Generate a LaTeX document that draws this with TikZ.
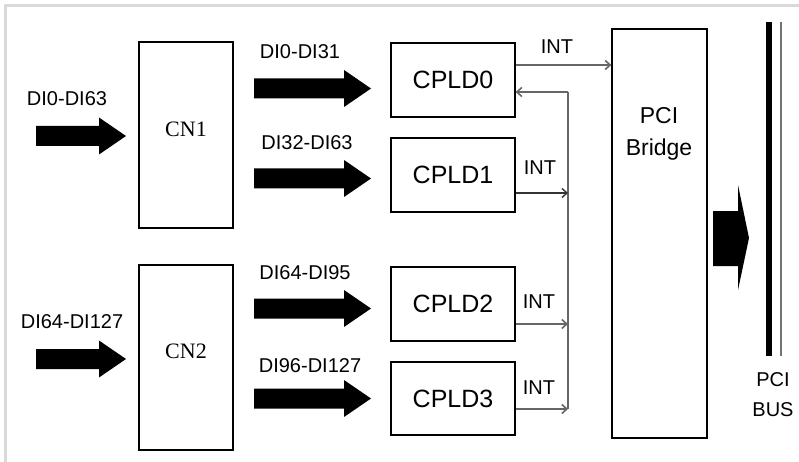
\documentclass[tikz,border=0pt]{standalone}
\usepackage{fontspec}
\setmainfont{Liberation Serif}
\newfontfamily\sansfnt{Liberation Sans}
\usetikzlibrary{arrows.meta}
\tikzset{
  blk/.style={draw=black, line width=1.3pt, fill=white, minimum width=#1, inner sep=0pt},
  lbl/.style={font=\sansfnt\fontsize{20}{22}\selectfont, inner sep=0pt},
  cpldtxt/.style={font=\sansfnt\fontsize{25}{28}\selectfont},
  cntxt/.style={font=\fontsize{22}{24}\selectfont},
  gline/.style={draw=black!60, line width=2.2pt, -{Straight Barb[length=5pt,width=9pt,line width=1.6pt]}},
  tline/.style={draw=black!80, line width=1.2pt, -{Straight Barb[length=5pt,width=9pt,line width=1.4pt]}},
  pics/fatarrow/.style={code={
    \fill[black] (0,-10) -- (#1-27,-10) -- (#1-27,-18.5) -- (#1,0) -- (#1-27,18.5) -- (#1-27,10) -- (0,10) -- cycle;}}
}
\begin{document}
\begin{tikzpicture}[x=1pt,y=-1pt]
\useasboundingbox (0,0) rectangle (799,462);
\fill[white] (0,0) rectangle (799,462);
% frame
\draw[black!15, line width=3pt] (5.5,462) -- (5.5,5.5) -- (799,5.5);

% connectors boxes
\node[blk=94pt, minimum height=186pt] (cn1) at (186,135) {};
\node[cntxt] at (186,129) {CN1};
\node[blk=94pt, minimum height=185pt] (cn2) at (186,357.5) {};
\node[cntxt] at (186,351) {CN2};

% CPLDs
\node[blk=124pt, minimum height=74pt, cpldtxt] (cpld0) at (453,80) {CPLD0};
\node[blk=124pt, minimum height=74pt, cpldtxt] (cpld1) at (453,175) {CPLD1};
\node[blk=124pt, minimum height=74pt, cpldtxt] (cpld2) at (453,304) {CPLD2};
\node[blk=124pt, minimum height=73pt, cpldtxt] (cpld3) at (453,398.5) {CPLD3};

% PCI bridge
\node[blk=95pt, minimum height=409pt] (bridge) at (659.5,233.5) {};
\node[cpldtxt, font=\sansfnt\fontsize{23}{32}\selectfont, align=center] (bridgetxt) at (659,134) {PCI\\Bridge};

% fat arrows
\pic at (36,136) {fatarrow=90};
\pic at (36,359) {fatarrow=90};
\pic at (254,88.5) {fatarrow=117};
\pic at (254,178.5) {fatarrow=117};
\pic at (254,308.5) {fatarrow=117};
\pic at (254,398.5) {fatarrow=117};
\fill[black] (713,211) -- (738,211) -- (738,185) -- (749,238) -- (738,290) -- (738,266) -- (713,266) -- cycle;

% arrow labels
\node[lbl] at (67,99) {DI0-DI63};
\node[lbl] at (72,322) {DI64-DI127};
\node[lbl] at (300,52) {DI0-DI31};
\node[lbl] at (307,143) {DI32-DI63};
\node[lbl] at (305,273) {DI64-DI95};
\node[lbl] at (310,366) {DI96-DI127};

% PCI bus
\draw[black, line width=6pt] (769,22) -- (769,356);
\draw[black!55, line width=2pt] (781,22) -- (781,356);
\node[lbl] at (773,380) {PCI};
\node[lbl] at (773,410) {BUS};

% interrupt wiring
\coordinate (vx) at (568,0);
\coordinate (s0) at ([yshift=15pt]cpld0.east);
\coordinate (r0) at ([yshift=-12pt]cpld0.east);
\coordinate (s1) at ([yshift=-18pt]cpld1.east);
\coordinate (s2) at ([yshift=-20pt]cpld2.east);
\coordinate (s3) at ([yshift=-10.5pt]cpld3.east);
\coordinate (top) at (vx |- r0);
\draw[gline] (s0) -- (s0 -| bridge.west);
\node[lbl] at (557,47) {INT};
\draw[black!60, line width=2pt] (vx |- s3) -- (top);
\draw[gline] (top) -- (r0);
\draw[tline] (s1) -- (vx |- s1);
\node[lbl] at (540,168) {INT};
\draw[gline, line width=1.6pt] (s2) -- (vx |- s2);
\node[lbl] at (539,302) {INT};
\draw[gline] (s3) -- (vx |- s3);
\node[lbl] at (539,388) {INT};
\end{tikzpicture}
\end{document}
